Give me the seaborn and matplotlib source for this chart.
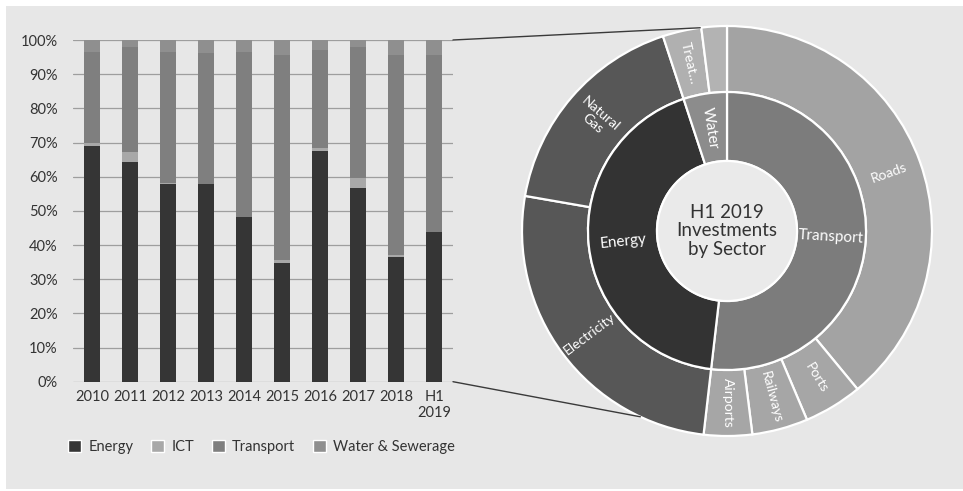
import numpy as np
import matplotlib
matplotlib.use("Agg")
import matplotlib.pyplot as plt
from matplotlib.patches import Rectangle, Circle, ConnectionPatch
import seaborn as sns

# ---- data -------------------------------------------------------------
years = ["2010", "2011", "2012", "2013", "2014", "2015", "2016", "2017", "2018", "H1\n2019"]
energy = [69.1, 64.4, 57.8, 57.8, 48.3, 34.8, 67.4, 56.6, 36.4, 43.8]
ict = [0.8, 2.7, 0.3, 0.0, 0.0, 0.8, 1.1, 2.9, 0.7, 0.0]
water = [3.4, 2.0, 3.4, 3.9, 3.4, 4.4, 3.0, 2.0, 4.4, 4.4]
transport = [100 - e - i - w for e, i, w in zip(energy, ict, water)]

sectors = ["Energy", "ICT", "Transport", "Water & Sewerage"]

# H1 2019 breakdown (clockwise from 12 o'clock)
sub_labels = ["Roads", "Ports", "Railways", "Airports", "Electricity",
              "Natural\nGas", "Treat…", ""]
sub_values = [39.0, 4.6, 4.4, 3.8, 25.9, 17.2, 3.05, 2.0]
main_labels = ["Transport", "Energy", "Water"]
main_values = [sum(sub_values[0:4]), sum(sub_values[4:6]), sum(sub_values[6:8])]

# ---- style ------------------------------------------------------------
sns.set_theme(style="white")
plt.rcParams["font.family"] = ["Lato", "DejaVu Sans"]
TXT = "#333333"
BG = "#e7e7e7"
c_energy, c_ict, c_transport, c_water = "#353535", "#a8a8a8", "#7f7f7f", "#8f8f8f"

W, H = 963, 491
fig = plt.figure(figsize=(W / 100, H / 100), dpi=100, facecolor="white")
fig.add_artist(Rectangle((6 / W, 2 / H), (W - 6) / W, (H - 8) / H,
                         transform=fig.transFigure, facecolor=BG,
                         edgecolor="none", zorder=-10))

# ---- stacked 100% bars -----------------------------------------------
ax = fig.add_axes([73 / W, (H - 381.7) / H, 380 / W, 341.7 / H])
ax.set_facecolor("none")
cum_ei = [e + i for e, i in zip(energy, ict)]
cum_eit = [c + t for c, t in zip(cum_ei, transport)]
cum_all = [c + w for c, w in zip(cum_eit, water)]
for tops, col in [(cum_all, c_water), (cum_eit, c_transport),
                  (cum_ei, c_ict), (energy, c_energy)]:
    sns.barplot(x=years, y=tops, color=col, width=0.42, saturation=1,
                ax=ax, zorder=3, linewidth=0)
ax.set_xlim(-0.5, len(years) - 0.5)
ax.set_ylim(0, 100)
ax.set_yticks(np.arange(0, 101, 10))
ax.set_yticklabels([f"{v}%" for v in range(0, 101, 10)])
ax.yaxis.grid(True, color="#9e9e9e", linewidth=0.9, zorder=0)
ax.set_axisbelow(True)
for s in ax.spines.values():
    s.set_visible(False)
ax.tick_params(axis="both", length=0, labelsize=10.5, colors=TXT)
ax.tick_params(axis="y", pad=11)
ax.tick_params(axis="x", pad=6)
ax.set_xlabel("")
ax.set_ylabel("")

handles = [Rectangle((0, 0), 1, 1, facecolor=c) for c in
           [c_energy, c_ict, c_transport, c_water]]
fig.legend(handles, sectors, loc="center left",
           bbox_to_anchor=(68 / W, (H - 447) / H), ncol=4, frameon=False,
           fontsize=10.5, handlelength=0.9, handleheight=0.9,
           handletextpad=0.5, columnspacing=1.2, labelcolor=TXT,
           borderaxespad=0, borderpad=0)

# ---- donut ------------------------------------------------------------
cx, cy, R = 727, 231, 205
half = 215
lim = half / R
axp = fig.add_axes([(cx - half) / W, (H - cy - half) / H, 2 * half / W, 2 * half / H])
axp.set_facecolor("none")

outer_cols = ["#a3a3a3", "#a6a6a6", "#a6a6a6", "#a6a6a6",
              "#575757", "#575757", "#b0b0b0", "#b3b3b3"]
inner_cols = ["#7c7c7c", "#333333", "#8c8c8c"]
r_in_outer = 139 / R
r_hole = 70 / R

w_out, _ = axp.pie(sub_values, radius=1.0, colors=outer_cols, startangle=90,
                   counterclock=False,
                   wedgeprops=dict(width=1.0 - r_in_outer, edgecolor="white",
                                   linewidth=1.6))
w_in, _ = axp.pie(main_values, radius=r_in_outer, colors=inner_cols,
                  startangle=90, counterclock=False,
                  wedgeprops=dict(width=r_in_outer - r_hole, edgecolor="white",
                                  linewidth=1.6))
axp.add_patch(Circle((0, 0), r_hole, facecolor="#eaeaea", edgecolor="white",
                     linewidth=1.6, zorder=5))
axp.set_xlim(-lim, lim)
axp.set_ylim(-lim, lim)
axp.set_aspect("equal")
axp.axis("off")


def radial_labels(wedges, labels, r_mid, size):
    for wdg, lab in zip(wedges, labels):
        if not lab:
            continue
        th = (wdg.theta1 + wdg.theta2) / 2
        rot = ((th + 90) % 180) - 90
        x, y = r_mid * np.cos(np.radians(th)), r_mid * np.sin(np.radians(th))
        axp.text(x, y, lab, rotation=rot, rotation_mode="anchor",
                 ha="center", va="center", color="white", fontsize=size,
                 linespacing=1.0, zorder=6)


radial_labels(w_out, sub_labels, (1.0 + r_in_outer) / 2, 10)
radial_labels(w_in, main_labels, (r_in_outer + r_hole) / 2, 11)

axp.text(0, 0, "H1 2019\nInvestments\nby Sector", ha="center", va="center",
         fontsize=13.5, color=TXT, linespacing=1.1, zorder=7)

# ---- connector lines --------------------------------------------------
for ybar, ang in [(100, 97.5), (0, -115)]:
    a = np.radians(ang)
    con = ConnectionPatch(xyA=(len(years) - 0.5, ybar), coordsA=ax.transData,
                          xyB=(np.cos(a), np.sin(a)), coordsB=axp.transData,
                          color="#3a3a3a", linewidth=1.0)
    fig.add_artist(con)

fig.savefig("out.png", dpi=100, facecolor=fig.get_facecolor())
